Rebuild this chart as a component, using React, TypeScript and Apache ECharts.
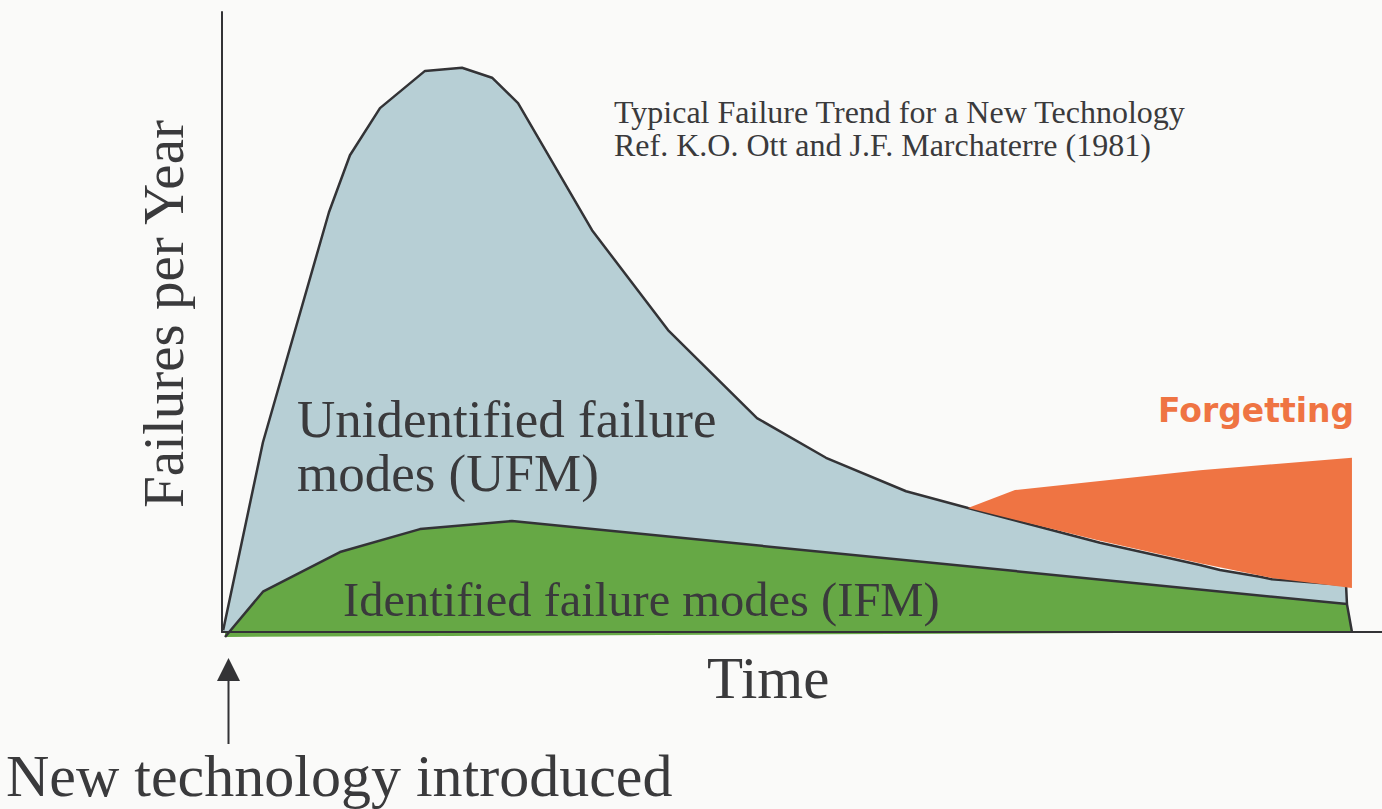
import React, { useEffect, useRef } from "react";
import * as echarts from "echarts";

// Time axis (arbitrary units 0..100) and failure rate (arbitrary units 0..100)
const timeUFM = [0.1, 3.53, 9.22, 11.03, 13.62, 17.5, 20.69, 23.28, 25.52, 31.9, 38.45, 46.12, 52.07, 58.97, 64.31, 75.69, 84.31, 86.03, 89.48, 90.52, 96.9, 96.98];
const ufmRate = [0.3, 30.6, 67.7, 76.9, 84.5, 90.5, 91.0, 89.4, 85.3, 64.8, 48.7, 34.5, 28.1, 22.7, 20.0, 14.4, 10.8, 10.0, 8.9, 8.5, 7.6, 4.5];

const timeIFM = [0.26, 3.53, 10.17, 17.07, 25.0, 96.98, 97.41];
const ifmRate = [-0.8, 6.5, 12.9, 16.6, 17.9, 4.5, 0];
const ifmBase = [-0.8, 0]; // lower edge of the green band at start / end

const timeForgetTop = [64.31, 68.36, 84.31, 97.41];
const forgetTop = [20.0, 22.9, 26.1, 28.1];
const timeForgetBottom = [97.41, 90.52, 84.31, 75.69, 64.31];
const forgetBottom = [7.1, 8.7, 11.1, 14.7, 20.0];

const TEXT = "#3a3a3c";
const LINE = "#333336";
const SERIF = "'Liberation Serif', 'Times New Roman', serif";

export default function App() {
  const ref = useRef<HTMLDivElement>(null);

  useEffect(() => {
    document.body.style.margin = "0";
    const chart = echarts.init(ref.current!, null, { renderer: "svg" });
    const ufmData = timeUFM.map((t, i) => [t, ufmRate[i]]);
    const ifmData = timeIFM.map((t, i) => [t, ifmRate[i]]);
    const forgetPoly = [
      ...timeForgetTop.map((t, i) => [t, forgetTop[i]]),
      ...timeForgetBottom.map((t, i) => [t, forgetBottom[i]]),
    ];
    const t0 = timeIFM[0];
    const t1 = timeIFM[timeIFM.length - 1];
    const basePoly = [
      [t0, 0],
      [t1, 0],
      [t1, ifmBase[1]],
      [t0, ifmBase[0]],
    ];

    const option: any = {
      animation: false,
      backgroundColor: "#fafaf9",
      grid: { left: 222, right: 0, top: 12, bottom: 177 },
      xAxis: {
        type: "value",
        min: 0,
        max: 100,
        z: 10,
        axisLine: { show: true, onZero: true, lineStyle: { color: LINE, width: 2 } },
        axisTick: { show: false },
        axisLabel: { show: false },
        splitLine: { show: false },
      },
      yAxis: {
        type: "value",
        min: 0,
        max: 100,
        z: 10,
        name: "Failures per Year",
        nameLocation: "middle",
        nameRotate: 90,
        nameGap: 30,
        nameTextStyle: { fontFamily: SERIF, fontSize: 57, color: TEXT, padding: [0, 0, 0, 16] },
        axisLine: { show: true, lineStyle: { color: LINE, width: 2 } },
        axisTick: { show: false },
        axisLabel: { show: false },
        splitLine: { show: false },
      },
      series: [
        {
          type: "line",
          name: "Unidentified failure modes (UFM)",
          data: ufmData,
          symbol: "none",
          lineStyle: { color: LINE, width: 2.5 },
          areaStyle: { color: "#b7cfd5", opacity: 1 },
          z: 2,
        },
        {
          type: "custom",
          name: "IFM base",
          data: [[t0, 0]],
          silent: true,
          z: 2,
          renderItem: (_p: any, api: any) => ({
            type: "polygon",
            shape: { points: basePoly.map((p) => api.coord(p)) },
            style: { fill: "#66a845" },
          }),
        },
        {
          type: "line",
          name: "Identified failure modes (IFM)",
          data: ifmData,
          symbol: "none",
          clip: false,
          lineStyle: { color: LINE, width: 2.5 },
          areaStyle: { color: "#66a845", opacity: 1 },
          z: 2,
        },
        {
          type: "custom",
          name: "Forgetting",
          data: [[timeForgetTop[0], forgetTop[0]]],
          silent: true,
          z: 3,
          renderItem: (_p: any, api: any) => ({
            type: "polygon",
            shape: { points: forgetPoly.map((p) => api.coord(p)) },
            style: { fill: "#ef7443" },
          }),
        },
      ],
      graphic: [
        {
          type: "text", z: 100, left: 614, top: 96,
          style: { text: "Typical Failure Trend for a New Technology", font: `32px ${SERIF}`, fill: TEXT },
        },
        {
          type: "text", z: 100, left: 614, top: 129,
          style: { text: "Ref. K.O. Ott and J.F. Marchaterre (1981)", font: `32px ${SERIF}`, fill: TEXT },
        },
        {
          type: "text", z: 100, left: 297, top: 392,
          style: { text: "Unidentified failure\nmodes (UFM)", font: `53px ${SERIF}`, lineHeight: 54, fill: TEXT },
        },
        {
          type: "text", z: 100, left: 343, top: 575,
          style: { text: "Identified failure modes (IFM)", font: `48.5px ${SERIF}`, fill: TEXT },
        },
        {
          type: "text", z: 100, left: 1158, top: 394,
          style: { text: "Forgetting", font: `bold 33px 'DejaVu Sans', sans-serif`, fill: "#ef7443" },
        },
        {
          type: "text", z: 100, left: 707, top: 648,
          style: { text: "Time", font: `59px ${SERIF}`, fill: TEXT },
        },
        {
          type: "text", z: 100, left: 6, top: 746,
          style: { text: "New technology introduced", font: `60px ${SERIF}`, fill: TEXT },
        },
        {
          type: "line", z: 100,
          shape: { x1: 228.5, y1: 678, x2: 228.5, y2: 744 },
          style: { stroke: LINE, lineWidth: 2 },
        },
        {
          type: "polygon", z: 100,
          shape: { points: [[228.5, 658], [217, 681], [240, 681]] },
          style: { fill: LINE },
        },
      ],
    };
    chart.setOption(option);
    return () => chart.dispose();
  }, []);

  return (
    <div
      ref={ref}
      style={{ position: "absolute", left: 0, top: 0, width: 1382, height: 809 }}
    />
  );
}
